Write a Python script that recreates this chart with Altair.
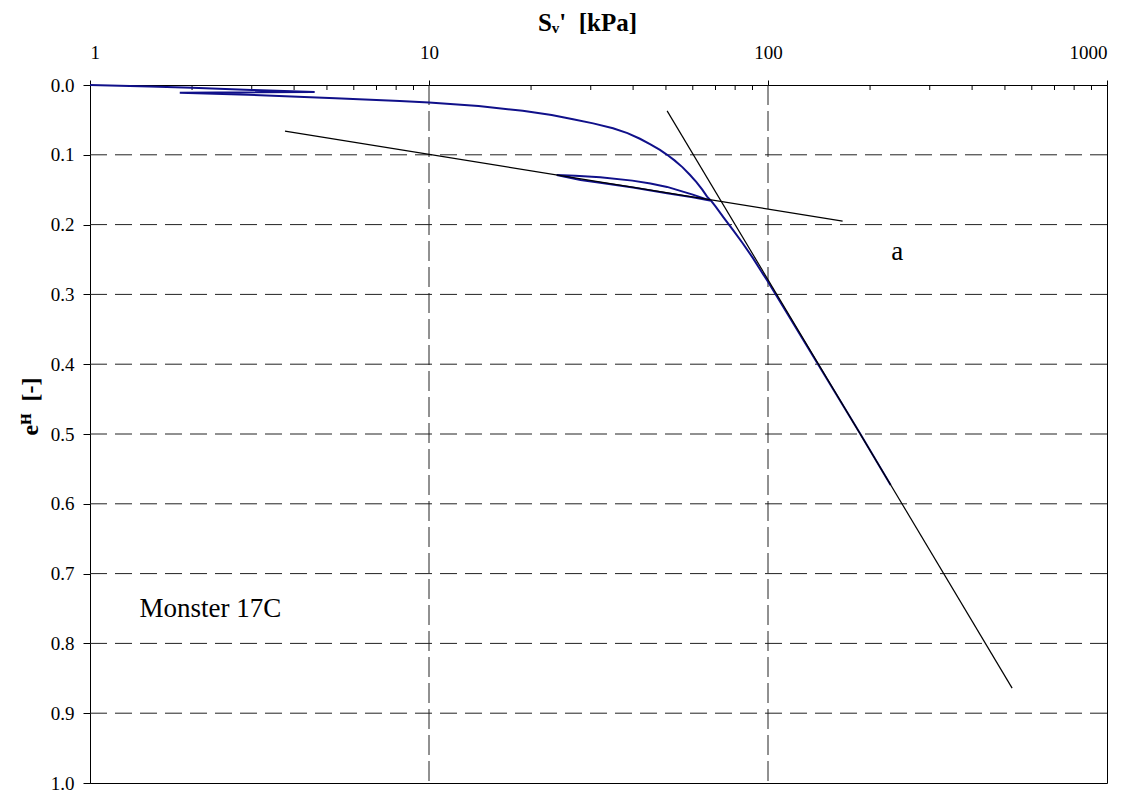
import altair as alt
import pandas as pd

# Measured curve (blue)
curve_x = [1.0, 1.5, 2.0, 3.0, 4.6,
           1.84, 2.93, 5.3, 8.2, 10.0, 14.0, 18.9, 23.0, 26.6, 30.5, 34.9, 38.5, 41.9, 45.0, 48.0, 50.4, 53.0,
           56.0, 58.9, 61.5, 64.0, 66.1, 68.0,
           60.0, 50.4, 45.0, 39.8, 32.0, 27.0, 23.8,
           28.0, 32.0, 40.0, 50.4, 60.0, 68.0,
           70.0, 74.0, 78.9, 84.0, 90.3, 95.0, 100.0, 139.6, 186.7, 230.0]
curve_y = [0.000, 0.002, 0.004, 0.007, 0.010,
           0.011, 0.014, 0.019, 0.023, 0.025, 0.030, 0.037, 0.043, 0.049, 0.055, 0.062, 0.069, 0.077, 0.085, 0.093, 0.100, 0.108,
           0.118, 0.129, 0.139, 0.150, 0.160, 0.166,
           0.157, 0.146, 0.141, 0.137, 0.132, 0.130, 0.129,
           0.136, 0.140, 0.147, 0.155, 0.161, 0.166,
           0.174, 0.190, 0.208, 0.226, 0.248, 0.265, 0.282, 0.398, 0.499, 0.573]

# Construction lines (black)
recomp_x = [3.76, 166.0]
recomp_y = [0.066, 0.195]
virgin_x = [50.4, 525.0]
virgin_y = [0.037, 0.864]

x_major = [1, 10, 100, 1000]
x_minor = [2, 3, 4, 5, 6, 7, 8, 9, 20, 30, 40, 50, 60, 70, 80, 90,
           200, 300, 400, 500, 600, 700, 800, 900]
y_ticks = [0.0, 0.1, 0.2, 0.3, 0.4, 0.5, 0.6, 0.7, 0.8, 0.9, 1.0]
x_grid = [10, 100]
y_grid = [0.1, 0.2, 0.3, 0.4, 0.5, 0.6, 0.7, 0.8, 0.9]

labels_text = ["a", "Monster 17C"]
labels_x = [231, 1.40]
labels_y = [0.239, 0.75]

FONT = "Liberation Serif"
NB = "\u00a0"

xs = alt.Scale(type="log", domain=[1, 1000])
ys = alt.Scale(domain=[0, 1], reverse=True)

curve_df = pd.DataFrame({"x": curve_x, "y": curve_y, "i": range(len(curve_x))})
lines_df = pd.DataFrame({
    "x": recomp_x + virgin_x,
    "y": recomp_y + virgin_y,
    "g": ["r", "r", "v", "v"],
})

xaxis = alt.Axis(orient="top", values=x_major, format="d", grid=False,
                 labelFont=FONT, labelFontSize=19, labelColor="black",
                 tickSize=5, tickColor="black", labelPadding=18,
                 domainColor="black",
                 title="Sᵥ'" + NB + NB + "[kPa]", titleFont=FONT, titleFontSize=25,
                 titleFontWeight="bold", titleColor="black",
                 titleX=497, titleY=-63, titleBaseline="middle")
yaxis = alt.Axis(orient="left", values=y_ticks, format=".1f", grid=False,
                 labelFont=FONT, labelFontSize=19, labelColor="black",
                 tickSize=7, tickColor="black", labelPadding=9,
                 domainColor="black",
                 title="eᴴ" + NB + NB + "[-]", titleFont=FONT, titleFontSize=24,
                 titleFontWeight="bold", titleColor="black",
                 titleX=-60, titleY=321, titleAngle=-90,
                 titleAlign="center", titleBaseline="middle")

vgrid = alt.Chart(pd.DataFrame({"x": x_grid})).mark_rule(
    color="#222", strokeWidth=1, strokeDash=[20, 6]
).encode(x=alt.X("x:Q", scale=xs, axis=xaxis))

hgrid = alt.Chart(pd.DataFrame({"y": y_grid})).mark_rule(
    color="#222", strokeWidth=1, strokeDash=[17, 8]
).encode(y=alt.Y("y:Q", scale=ys, axis=yaxis))

minor = alt.Chart(pd.DataFrame({"x": x_minor})).mark_rule(
    color="black", strokeWidth=1
).encode(x=alt.X("x:Q", scale=xs), y=alt.value(0), y2=alt.value(5))

curve = alt.Chart(curve_df).mark_line(color="#10108a", strokeWidth=2).encode(
    x=alt.X("x:Q", scale=xs), y=alt.Y("y:Q", scale=ys), order="i:Q")

lines = alt.Chart(lines_df).mark_line(color="black", strokeWidth=1.2).encode(
    x=alt.X("x:Q", scale=xs), y=alt.Y("y:Q", scale=ys), detail="g:N")

texts = alt.Chart(pd.DataFrame({"t": labels_text, "x": labels_x, "y": labels_y})).mark_text(
    font=FONT, fontSize=27, align="left", baseline="middle", color="black"
).encode(x=alt.X("x:Q", scale=xs), y=alt.Y("y:Q", scale=ys), text="t:N")

chart = alt.layer(vgrid, hgrid, minor, curve, lines, texts).properties(
    width=1017, height=698,
    autosize=alt.AutoSizeParams(type="none"),
    padding={"left": 90, "top": 85, "right": 27, "bottom": 10},
    background="white",
).configure_view(stroke="black", strokeWidth=1).configure_axis(
    labelFont=FONT, titleFont=FONT
)

chart.save("out.html", embed_options={"renderer": "svg", "actions": False})
